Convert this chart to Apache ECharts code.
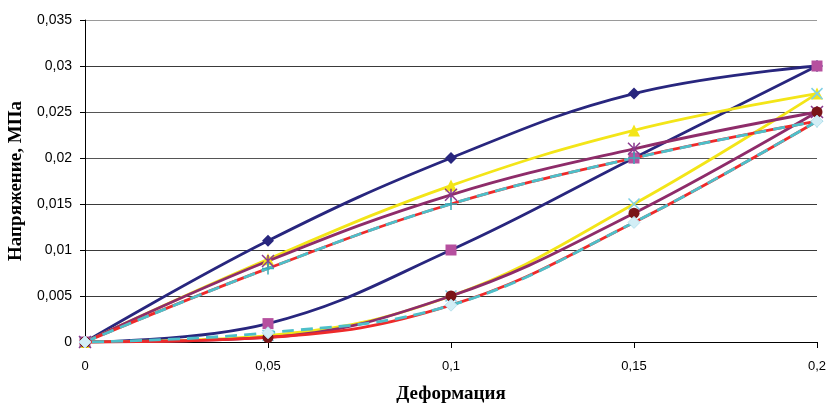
<!DOCTYPE html>
<html>
<head>
<meta charset="utf-8">
<script src="https://cdn.jsdelivr.net/npm/echarts@6/dist/echarts.min.js"></script>
<style>
html, body { margin: 0; padding: 0; background: #fff; }
#chart { width: 828px; height: 405px; }
</style>
</head>
<body>
<div id="chart"></div>
<script>
// деформация: нагрузка и разгрузка
var strainUp = [0, 0.05, 0.1, 0.15, 0.2];
var strainDown = [0.2, 0.15, 0.1, 0.05, 0];

var load1 = [0, 0.011, 0.02, 0.027, 0.03];
var unload1 = [0.03, 0.02, 0.01, 0.002, 0];
var load2 = [0, 0.009, 0.017, 0.023, 0.027];
var unload2 = [0.027, 0.015, 0.005, 0.0007, 0];
var load3 = [0, 0.0088, 0.016, 0.021, 0.025];
var unload3 = [0.025, 0.014, 0.005, 0.0005, 0];
var load4 = [0, 0.008, 0.015, 0.02, 0.024];
var unload4 = [0.024, 0.013, 0.004, 0.0005, 0];
var load5 = [0, 0.008, 0.015, 0.02, 0.024];
var unload5 = [0.024, 0.013, 0.004, 0.001, 0];

var xTicks = ['0', '0,05', '0,1', '0,15', '0,2'];
var yTicks = ['0', '0,005', '0,01', '0,015', '0,02', '0,025', '0,03', '0,035'];

function pairs(xs, ys) {
    return xs.map(function (x, i) { return [x, ys[i]]; });
}

// маркеры-крестики как в Excel
var symX = 'path://M0,0 L10,10 M10,0 L0,10';
var symPlus = 'path://M5,0 L5,10 M0,5 L10,5';
var symStar = 'path://M0,0 L10,10 M10,0 L0,10 M5,0 L5,10';

function mk(name, xs, ys, lineColor, opts) {
    var s = {
        name: name,
        type: 'line',
        data: pairs(xs, ys),
        smooth: 0.4,
        lineStyle: { color: lineColor, width: 2.8, type: opts.dash || 'solid' },
        symbol: opts.symbol || 'none',
        symbolSize: opts.size || 10,
        showSymbol: !!opts.symbol,
        itemStyle: opts.item || { color: lineColor },
        emphasis: { disabled: true },
        animation: false
    };
    return s;
}

var navy = '#28267E';
var yellow = '#F3E518';
var purple = '#8E2C6A';
var red = '#EE2A2A';
var cyan = '#4DBFC9';

var series = [
    mk('1', strainUp, load1, navy, { symbol: 'diamond', size: 12, item: { color: navy } }),
    mk('2', strainDown, unload1, navy, { symbol: 'rect', size: 11, item: { color: '#B6509F' } }),
    mk('3', strainUp, load2, yellow, { symbol: 'triangle', size: 12, item: { color: yellow } }),
    mk('4', strainDown, unload2, yellow, { symbol: symX, size: 11, item: { color: 'transparent', borderColor: '#7FD0E6', borderWidth: 1.5 } }),
    mk('5', strainUp, load3, purple, { symbol: symStar, size: 12, item: { color: 'transparent', borderColor: '#8B3A8F', borderWidth: 1.5 } }),
    mk('6', strainDown, unload3, purple, { symbol: 'circle', size: 11, item: { color: '#7A1518' } }),
    mk('7', strainUp, load4, red, {}),
    mk('8', strainUp, load5, cyan, { dash: [12, 7], symbol: symPlus, size: 12, item: { color: 'transparent', borderColor: '#3AAAB8', borderWidth: 1.5 } }),
    mk('9', strainDown, unload4, red, {}),
    mk('10', strainDown, unload5, cyan, { dash: [12, 7], symbol: 'diamond', size: 12, item: { color: '#D3EEF6', borderColor: '#B8E2EE', borderWidth: 1 } })
];

var chart = echarts.init(document.getElementById('chart'));
chart.setOption({
    animation: false,
    grid: { left: 85, right: 11, top: 20, bottom: 63, containLabel: false, outerBoundsMode: 'none' },
    xAxis: {
        type: 'value',
        min: 0,
        max: 0.2,
        interval: 0.05,
        name: 'Деформация',
        nameLocation: 'middle',
        nameGap: 43,
        nameTextStyle: { fontFamily: 'Liberation Serif', fontWeight: 'bold', fontSize: 19, color: '#000' },
        axisLine: { lineStyle: { color: '#000', width: 1 } },
        axisTick: { show: true, length: 6, lineStyle: { color: '#000' } },
        axisLabel: {
            margin: 18,
            fontFamily: 'Liberation Sans',
            fontSize: 13,
            color: '#000',
            formatter: function (v) { return xTicks[Math.round(v / 0.05)]; }
        },
        splitLine: { show: false }
    },
    yAxis: {
        type: 'value',
        min: 0,
        max: 0.035,
        interval: 0.005,
        name: 'Напряжение, МПа',
        nameLocation: 'middle',
        nameGap: 56,
        nameTextStyle: { fontFamily: 'Liberation Serif', fontWeight: 'bold', fontSize: 19, color: '#000' },
        axisLine: { show: true, lineStyle: { color: '#000', width: 1 } },
        axisTick: { show: true, length: 5, lineStyle: { color: '#000' } },
        axisLabel: {
            margin: 13,
            fontFamily: 'Liberation Sans',
            fontSize: 14,
            color: '#000',
            formatter: function (v) { return yTicks[Math.round(v / 0.005)]; }
        },
        splitLine: {
            show: true,
            lineStyle: {
                color: ['#3a3a3a', '#3a3a3a', '#3a3a3a', '#3a3a3a', '#555', '#555', '#3a3a3a', '#9a9a9a'],
                width: 1
            }
        }
    },
    series: series
});
</script>
</body>
</html>
